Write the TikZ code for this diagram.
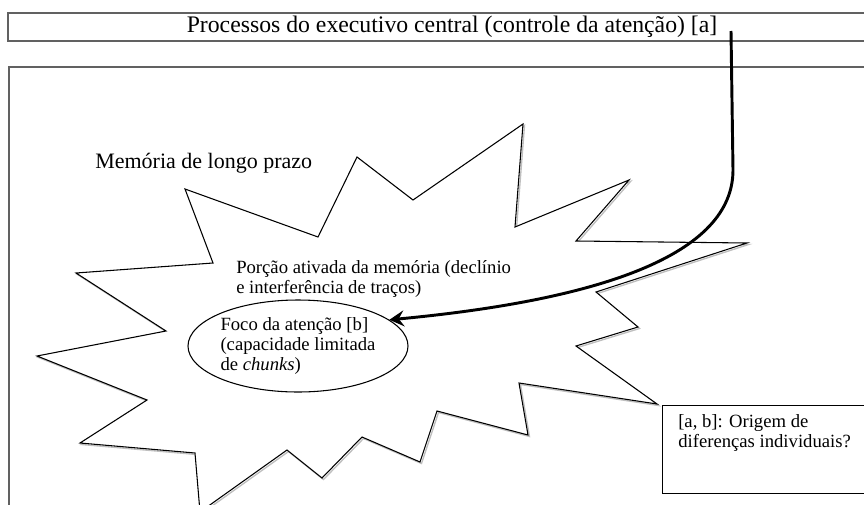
\documentclass[tikz,border=0pt]{standalone}
\usepackage{fontspec}
\setmainfont{Liberation Serif}
\usetikzlibrary{arrows.meta,positioning,shapes.geometric}

\begin{document}
\begin{tikzpicture}[
x=0.75pt, y=-0.75pt,
every node/.style={font=\fontsize{14}{15}\selectfont},
frame/.style={draw=black!62, line width=0.9pt},
burst/.style={draw, fill=white, line width=0.8pt, line join=miter},
txt/.style={inner sep=0pt, align=left},
foco/.style={draw, ellipse, fill=white, line width=0.8pt, minimum width=165pt, minimum height=69pt, inner sep=0pt, align=left},
nota/.style={draw, line width=0.9pt, minimum width=170pt, minimum height=66pt, anchor=north west},
arrow/.style={-{Stealth[length=11pt, width=12pt, inset=4pt]}, line width=2.2pt}
]
\clip (0,0) rectangle (864,504);

% Executivo central
\node[frame, minimum width=666pt, minimum height=21pt, inner ysep=0pt, font=\fontsize{17.8}{20}\selectfont] (exec) at (452,27) {Processos do executivo central (controle da atenção) [a]};

% Memoria de longo prazo - caixa grande
\draw[frame] (9,67) rectangle (900,600);
\node[txt, anchor=west, font=\fontsize{16.5}{18}\selectfont] (mlp) at (95,163) {Memória de longo prazo};

% Porcao ativada - estrela
\draw[burst, draw=black!25, line width=1pt, shift={(1.5,1.5)}] (185,189) -- (318,237) -- (357,157) -- (413,200) -- (523,124) -- (515,227) -- (629,180) -- (576,241) -- (747,243) -- (596,292) -- (638,327) -- (576,346) -- (657,404) -- (519,383) -- (528,435) -- (437,411) -- (420,462) -- (362,437) -- (322,478) -- (287,450) -- (200,512) -- (195,453) -- (80,443) -- (147,400) -- (37,356) -- (166,331) -- (76,273) -- (213,263) -- cycle;
\draw[burst] (185,189) -- (318,237) -- (357,157) -- (413,200) -- (523,124) -- (515,227) -- (629,180) -- (576,241) -- (747,243) -- (596,292) -- (638,327) -- (576,346) -- (657,404) -- (519,383) -- (528,435) -- (437,411) -- (420,462) -- (362,437) -- (322,478) -- (287,450) -- (200,512) -- (195,453) -- (80,443) -- (147,400) -- (37,356) -- (166,331) -- (76,273) -- (213,263) -- cycle;
\node[txt, anchor=north west] (ativa) at (236,260) {Porção ativada da memória (declínio\\e interferência de traços)};

% Foco da atencao
\node[foco] (focus) at (298,346) {Foco da atenção [b]\\(capacidade limitada\\de \emph{chunks})};

% Nota
\node[nota] (nota) at (662,405) {};
\node[txt, below right=7pt and 12pt of nota.north west] (notatxt) {[a, b]: Origem de\\diferenças individuais?};

% Seta do executivo para o foco
\coordinate (start) at (731,31);
\coordinate (bend) at (733,170);
\draw[arrow] (start) -- (bend) .. controls (733,255) and (600,300) .. (focus.16);

\end{tikzpicture}
\end{document}
